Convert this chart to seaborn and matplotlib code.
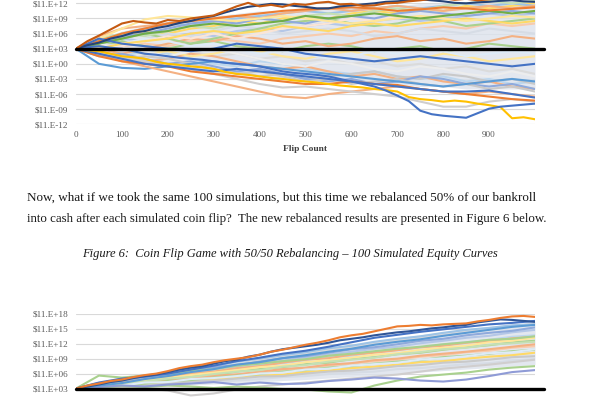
import numpy as np
import pandas as pd
import matplotlib
matplotlib.use("Agg")
import matplotlib.pyplot as plt
import seaborn as sns
from matplotlib.ticker import FixedLocator, FuncFormatter, NullLocator

# ---------------- data (exponents of bankroll, log10 $) ----------------
flips = [0, 50, 100, 150, 200, 250, 300, 350, 400, 450, 500,
         550, 600, 650, 700, 750, 800, 850, 900, 950, 1000]
flips_fine = [0, 25, 50, 75, 100, 125, 150, 175, 200, 225, 250, 275, 300, 325, 350, 375,
              400, 425, 450, 475, 500, 525, 550, 575, 600, 625, 650, 675, 700, 725, 750,
              775, 800, 825, 850, 875, 900, 925, 950, 975, 1000]
start_bankroll = 1000
x_ticks = [0, 100, 200, 300, 400, 500, 600, 700, 800, 900]
top_y_exps = [12, 9, 6, 3, 0, -3, -6, -9, -12]
bot_y_exps = [18, 15, 12, 9, 6, 3]

# Chart without rebalancing: pale cloud envelope
top_band_hi = [3, 5, 6.5, 7.5, 8.5, 9, 9.5, 10, 10.5, 10.5, 11, 11, 11.5, 11.5, 11.5, 12, 12, 12, 12, 12, 12]
top_band_lo = [3, 1.5, 0.5, 0, -0.5, -1, -1.5, -2, -2.5, -3, -3, -3.5, -3.5, -4, -4, -4.5, -4.5, -5, -5, -5, -5]

top_cloud = [
    [3, 4, 5, 4.5, 5.5, 6, 5.5, 6.5, 7, 6.5, 7.5, 8, 7.5, 8.5, 9, 8.5, 9, 9.5, 10, 9.5, 10],
    [3, 2.5, 3.5, 4, 3.5, 4.5, 5, 4.5, 4, 5, 5.5, 6, 5.5, 6.5, 6, 7, 7.5, 7, 8, 7.5, 8],
    [3, 3.5, 2.5, 2, 3, 2.5, 1.5, 2, 1, 1.5, 0.5, 1, 0, 0.5, -0.5, 0, -1, -0.5, -1.5, -1, -2],
    [3, 4.5, 5.5, 6.5, 6, 7, 7.5, 8.5, 8, 9, 9.5, 9, 10, 10.5, 10, 11, 10.5, 11.5, 11, 11.5, 12],
    [3, 2, 1.5, 2.5, 2, 1, 0, -0.5, 0.5, 0, -1, -1.5, -2, -1.5, -2.5, -3, -2.5, -3.5, -3, -4, -3.5],
    [3, 3.5, 4.5, 3.5, 3, 4, 4.5, 3.5, 3, 2.5, 3.5, 4, 3.5, 2.5, 3, 3.5, 2.5, 3, 4, 3.5, 3],
    [3, 4, 3.5, 5, 6, 5.5, 6.5, 7.5, 7, 6, 6.5, 7, 6.5, 5.5, 6, 7, 6.5, 6, 7, 6.5, 6],
    [3, 2.5, 1.5, 0.5, 1, 2, 1.5, 0.5, -0.5, -1, -0.5, -1.5, -2.5, -2, -3, -2.5, -3.5, -4, -3.5, -4.5, -5],
    [3, 4.5, 6, 7, 8, 7.5, 8.5, 9, 9.5, 10, 10.5, 10, 10.5, 11, 11.5, 11, 11.5, 12, 11.5, 12, 11.5],
    [3, 3, 2, 3, 4, 5, 4.5, 5.5, 5, 4, 4.5, 3.5, 4, 5, 5.5, 4.5, 5, 4, 4.5, 5.5, 5],
    [3, 2, 1, 0.5, -0.5, -1, -2, -1.5, -2.5, -2, -3, -2.5, -2, -1.5, -2.5, -3, -2, -2.5, -3.5, -3, -4],
    [3, 3.5, 3, 2, 2.5, 1.5, 2, 3, 2.5, 1.5, 1, 2, 2.5, 1.5, 0.5, 1, 2, 1.5, 0.5, 1, 1.5],
    [3, 4, 5, 6, 5, 4, 5, 6, 7, 8, 8.5, 9, 8, 7.5, 8, 9, 8.5, 7.5, 8, 8.5, 9],
    [3, 1.5, 2, 1, 0, 0.5, -0.5, -1.5, -1, -2, -3, -3.5, -3, -4, -3.5, -2.5, -3, -4, -4.5, -4, -5],
    [3, 5, 6, 5.5, 6.5, 7.5, 7, 8, 9, 8.5, 9.5, 10, 9.5, 10.5, 11, 10.5, 11.5, 12, 12.5, 12, 12.5],
    [3, 3, 4, 5, 4.5, 3.5, 4, 3, 2, 2.5, 2, 1, 1.5, 2.5, 2, 3, 2.5, 1.5, 2, 2.5, 2],
    [3, 2.5, 3.5, 4.5, 5.5, 5, 6, 5, 6, 7, 7.5, 8, 9, 8.5, 9.5, 9, 10, 9.5, 10.5, 10, 10.5],
    [3, 4, 3, 2.5, 1.5, 2.5, 3, 2, 1, 0, -0.5, 0.5, 0, -1, -1.5, -0.5, -1, -2, -2.5, -1.5, -2.5],
    [3, 5.5, 7, 7.5, 8, 8.5, 9, 9.5, 9, 10, 10.5, 11, 10.5, 11, 11.5, 11, 10.5, 11, 11.5, 11, 11.5],
    [3, 4, 5.5, 6, 7, 8, 8.5, 8, 9, 8.5, 8, 9, 9.5, 9, 10, 10.5, 10, 9.5, 10, 10.5, 10],
    [3, 3, 4, 4.5, 5, 6, 6.5, 6, 6.5, 7.5, 7, 6.5, 7.5, 8, 7.5, 8, 8.5, 9, 8.5, 8, 8.5],
    [3, 2, 1, 1.5, 1, 0, -1, -2, -1.5, -2.5, -3.5, -3, -4, -3.5, -3, -4, -4.5, -4, -5, -4.5, -5.5],
]
top_orange_mid = [3, 4.5, 6.0, 7.0, 8.0, 8.5, 9.0, 9.5, 10.0, 10.5, 10.8, 11.0, 11.2, 11.0, 10.5, 10.8, 11.2, 11.0, 10.6, 10.9, 11.2]
top_yellow_hi = [3, 5.0, 7.0, 8.8, 9.5, 9.2, 8.8, 8.5, 9.0, 9.5, 9.0, 8.5, 8.0, 8.5, 9.0, 9.5, 9.0, 8.5, 9.0, 9.5, 9.2]
top_green_mid = [3, 4.0, 5.0, 6.0, 6.5, 7.5, 8.0, 7.5, 8.0, 8.5, 9.5, 9.0, 9.5, 10.0, 9.5, 9.0, 9.5, 10.0, 10.5, 10.0, 10.5]
top_blue_start = [3, 5.0, 4.0, 3.5, 3.0, 2.5, 3.0, 4.0, 3.5, 3.0, 2.0, 1.5, 1.0, 0.5, 1.0, 1.5, 1.0, 0.5, 0.0, -0.5, 0.0]
top_blue_early = [3, 0.0, -0.8, -1.0, -0.5, 0.0, 0.5, 0.0, -0.5, -1.0, -1.5, -2.0, -2.5, -3.0, -3.5, -4.0, -4.5, -4.0, -3.5, -3.0, -3.5]
top_peach_low = [3, 2.0, 0.5, -0.5, -1.5, -2.5, -3.5, -4.5, -5.5, -6.5, -6.8, -6.0, -5.5, -5.0, -4.5, -5.0, -5.5, -6.0, -5.5, -6.0, -6.5]
top_grey_low = [3, 2.0, 1.5, 0.5, 0.0, -1.0, -2.0, -3.0, -4.0, -4.7, -4.5, -5.0, -5.5, -6.0, -6.5, -7.5, -8.5, -8.5, -7.5, -7.0, -7.5]
top_orange_low = [3, 1.5, 0.5, 0.0, -0.5, -1.5, -2.0, -2.5, -3.0, -3.5, -4.0, -4.0, -3.5, -4.0, -4.2, -5.0, -5.5, -6.0, -6.5, -7.0, -7.3]
top_blue_low2 = [3, 2.0, 1.0, 0.0, -0.5, -1.0, -1.5, -1.0, -1.5, -2.0, -2.5, -3.0, -3.5, -4.0, -4.5, -5.0, -5.5, -5.5, -5.3, -6.0, -6.7]
# prominent curves read at every 25 flips
top_yellow_low = [3, 2.7, 2.5, 2.0, 1.5, 1.3, 1.0, 0.4, 0.0, -0.2, -0.5, -0.7, -1.0, -1.6, -2.0, -2.2,
                  -2.5, -2.8, -3.0, -3.3, -3.5, -3.7, -4.0, -4.3, -4.5, -4.7, -5.0, -5.2, -5.5, -6.6,
                  -7.0, -7.2, -7.5, -7.3, -7.5, -7.9, -8.2, -8.6, -10.8, -10.6, -11.0]
top_blue_low = [3, 3.3, 3.5, 3.2, 3.0, 2.5, 2.0, 1.8, 1.5, 1.2, 1.0, 0.8, 0.5, 0.2, 0.0, -0.2,
                -0.5, -1.0, -1.5, -1.8, -2.0, -2.2, -2.5, -3.0, -3.5, -4.0, -4.5, -5.3, -6.3, -7.4,
                -9.3, -10.0, -10.3, -10.5, -10.7, -9.8, -8.9, -8.5, -8.3, -8.1, -7.9]
top_blue_hi = [3, 3.7, 4.2, 5.0, 5.5, 6.2, 6.5, 7.1, 7.5, 8.1, 8.5, 9.1, 9.5, 10.2, 10.8, 11.3,
               11.6, 11.9, 11.8, 11.5, 11.3, 11.0, 11.0, 11.4, 11.6, 11.8, 12.0, 12.3, 12.4, 12.6,
               12.8, 12.6, 12.4, 12.1, 12.0, 12.2, 12.3, 12.5, 12.6, 12.4, 12.3]
top_orange_hi = [3, 4.5, 5.6, 6.8, 8.0, 8.5, 8.2, 8.0, 8.7, 8.5, 9.0, 9.3, 9.6, 10.5, 11.4, 12.1,
                 11.4, 11.7, 11.3, 11.9, 11.7, 12.1, 12.3, 11.8, 11.9, 11.5, 11.6, 12.0, 12.1, 12.4,
                 12.6, 12.9, 13.0, 12.7, 12.9, 12.6, 12.8, 13.1, 13.3, 13.2, 13.5]

# Chart with 50/50 rebalancing
bot_band_hi = [3, 3.9, 4.6, 5.4, 6.1, 6.9, 7.6, 8.3, 9.1, 9.8, 10.5, 11.2, 11.9, 12.6, 13.2, 13.8, 14.4, 15.0, 15.5, 16.0, 16.4]
bot_band_lo = [3, 3.0, 3.1, 3.3, 3.5, 3.7, 3.9, 4.1, 4.3, 4.6, 4.8, 5.1, 5.4, 5.7, 6.0, 6.3, 6.6, 6.9, 7.2, 7.5, 7.8]
bot_cloud = [
    [3, 3.8, 4.5, 5.2, 5.6, 6.3, 7.0, 7.4, 8.1, 8.6, 9.3, 9.8, 10.4, 11.0, 11.4, 12.1, 12.6, 13.2, 13.6, 14.3, 14.8],
    [3, 3.4, 3.9, 4.1, 4.6, 5.0, 5.3, 5.9, 6.2, 6.8, 7.1, 7.6, 8.0, 8.5, 8.8, 9.4, 9.7, 10.3, 10.6, 11.2, 11.5],
    [3, 3.6, 4.4, 5.1, 5.9, 6.4, 7.2, 7.9, 8.7, 9.3, 10.0, 10.8, 11.3, 12.1, 12.7, 13.3, 13.9, 14.6, 15.0, 15.6, 16.0],
    [3, 3.2, 3.5, 3.9, 4.2, 4.4, 4.9, 5.1, 5.6, 5.8, 6.3, 6.6, 7.1, 7.4, 7.8, 8.3, 8.5, 9.0, 9.4, 9.7, 10.2],
    [3, 3.9, 4.3, 4.8, 5.5, 5.9, 6.6, 7.0, 7.7, 8.1, 8.7, 9.3, 9.6, 10.3, 10.8, 11.2, 11.9, 12.3, 12.8, 13.4, 13.7],
    [3, 3.3, 3.8, 4.5, 4.8, 5.4, 5.7, 6.4, 6.9, 7.3, 7.9, 8.2, 8.9, 9.3, 9.9, 10.2, 10.8, 11.3, 11.7, 12.3, 12.6],
    [3, 3.1, 3.3, 3.6, 3.8, 4.1, 4.3, 4.6, 4.9, 5.3, 5.5, 5.9, 6.2, 6.4, 6.9, 7.1, 7.5, 7.9, 8.1, 8.6, 8.9],
    [3, 3.7, 4.2, 4.9, 5.3, 6.0, 6.4, 7.1, 7.5, 8.2, 8.8, 9.1, 9.8, 10.2, 10.7, 11.3, 11.6, 12.2, 12.5, 13.1, 13.4],
    [3, 4.1, 4.7, 5.6, 6.2, 7.0, 7.5, 8.4, 9.0, 9.7, 10.3, 11.1, 11.6, 12.4, 13.0, 13.5, 14.2, 14.8, 15.2, 15.7, 15.9],
    [3, 3.5, 3.7, 4.3, 4.5, 5.1, 5.6, 5.8, 6.4, 6.9, 7.2, 7.8, 8.1, 8.7, 9.0, 9.6, 10.0, 10.4, 10.9, 11.4, 11.9],
    [3, 3.0, 3.4, 3.7, 4.0, 4.5, 4.6, 5.0, 5.4, 5.5, 6.0, 6.4, 6.6, 7.0, 7.5, 7.7, 8.2, 8.4, 8.8, 9.3, 9.5],
    [3, 3.6, 4.0, 4.7, 5.1, 5.7, 6.2, 6.7, 7.3, 7.6, 8.3, 8.7, 9.2, 9.8, 10.1, 10.8, 11.2, 11.6, 12.3, 12.6, 13.2],
    [3, 3.3, 3.7, 4.0, 4.5, 4.7, 5.2, 5.6, 5.9, 6.4, 6.7, 7.2, 7.5, 8.0, 8.4, 8.7, 9.3, 9.6, 10.0, 10.5, 10.8],
    [3, 3.8, 4.6, 5.3, 5.8, 6.6, 7.3, 7.7, 8.4, 9.1, 9.5, 10.2, 10.9, 11.3, 11.9, 12.6, 13.0, 13.7, 14.2, 14.6, 15.3],
    [3, 3.5, 4.1, 4.4, 5.0, 5.3, 5.9, 6.4, 6.7, 7.4, 7.7, 8.4, 8.8, 9.2, 9.9, 10.3, 10.9, 11.2, 11.8, 12.1, 12.4],
    [3, 3.2, 3.6, 4.2, 4.3, 4.9, 5.1, 5.5, 6.0, 6.2, 6.8, 7.0, 7.6, 7.9, 8.2, 8.8, 9.1, 9.5, 10.1, 10.3, 10.9],
]
bot_green_early = [3, 5.6, 5.2, 5.6, 6.1, 6.5, 6.9, 7.6, 8.0, 8.5, 8.9, 9.6, 10.0, 10.5, 11.0, 11.4, 11.9, 12.3, 12.8, 13.0, 13.5]
bot_grey_dip = [3, 2.8, 3.3, 3.0, 2.6, 1.6, 2.0, 2.8, 3.4, 3.8, 4.2, 4.6, 5.0, 5.4, 5.8, 6.4, 7.0, 7.4, 7.8, 8.3, 8.8]
bot_green_low = [3, 3.2, 3.5, 3.3, 3.6, 3.4, 3.1, 3.4, 3.2, 2.9, 2.8, 2.4, 2.2, 3.6, 4.6, 5.4, 5.8, 6.2, 6.8, 7.2, 7.5]
bot_purple_low = [3, 3.3, 3.6, 3.4, 3.8, 4.0, 4.3, 3.8, 4.2, 3.9, 4.0, 4.5, 4.8, 5.2, 5.0, 4.6, 4.4, 4.8, 5.5, 6.3, 6.7]
bot_blue_mid = [3, 3.6, 4.1, 4.9, 5.5, 6.3, 6.9, 7.8, 8.3, 9.1, 9.7, 10.4, 11.0, 11.8, 12.4, 12.9, 13.6, 14.2, 14.8, 15.4, 15.8]
bot_blue2 = [3, 4.2, 5.0, 5.4, 6.0, 6.8, 7.6, 8.5, 9.2, 10.0, 10.6, 11.4, 12.3, 13.2, 13.8, 14.4, 14.9, 15.4, 15.9, 16.2, 16.6]
bot_blue_hi = [3, 3.4, 3.8, 4.3, 4.6, 5.1, 5.5, 5.8, 6.3, 6.8, 7.2, 7.5, 8.0, 8.5, 8.8, 9.4,
               9.8, 10.4, 10.9, 11.2, 11.5, 11.8, 12.2, 12.7, 13.0, 13.3, 13.7, 14.0, 14.3, 14.5,
               14.8, 15.1, 15.3, 15.6, 15.8, 16.3, 16.6, 16.9, 16.8, 16.6, 16.4]
bot_orange_hi = [3, 3.6, 4.0, 4.5, 4.8, 5.3, 5.7, 6.0, 6.5, 7.1, 7.5, 7.8, 8.3, 8.7, 9.0, 9.3,
                 9.8, 10.4, 10.8, 11.3, 11.8, 12.2, 12.7, 13.3, 13.7, 14.0, 14.5, 15.0, 15.5, 15.6,
                 15.8, 15.7, 15.9, 16.0, 16.1, 16.5, 16.8, 17.2, 17.5, 17.6, 17.4]

# ---------------- style ----------------
cloud_colors = ["#B4C7E7", "#F8CBAD", "#DBDBDB", "#FFD966", "#BDD7EE", "#A9D18E",
                "#D6DCE5", "#F4B183", "#9DC3E6", "#F4B183", "#C9C9C9", "#FFE699",
                "#A9D18E", "#8FAADC", "#C5E0B4", "#DEEBF7", "#FBE5D6", "#EDEDED",
                "#F4B183", "#8FAADC", "#FFD966", "#C9C9C9"]

sns.set_theme(style="white")
plt.rcParams["font.family"] = ["Liberation Serif", "DejaVu Serif"]

W, H = 600, 400
fig = plt.figure(figsize=(6, 4), dpi=100)
fig.patch.set_facecolor("white")


def axes_px(left, top, right, bottom):
    return fig.add_axes([left / W, 1 - bottom / H, (right - left) / W, (bottom - top) / H])


def fmt(v, _):
    e = int(round(np.log10(v)))
    return "$11.E%+03d" % e


def draw_chart(ax, curves, band_lo, band_hi, ylo, yhi, y_exps, show_x):
    ax.set_yscale("log")
    ax.fill_between(flips, [10.0 ** v for v in band_lo], [10.0 ** v for v in band_hi],
                    color="#DCE2EC", alpha=0.8, lw=0, zorder=1)
    rows = []
    pal = {}
    for i, (xs, ys, col) in enumerate(curves):
        key = "c%02d" % i
        pal[key] = col
        for f, v in zip(xs, ys):
            rows.append((f, 10.0 ** v, key))
    df = pd.DataFrame(rows, columns=["flip", "value", "curve"])
    sns.lineplot(data=df, x="flip", y="value", hue="curve", palette=pal,
                 legend=False, estimator=None, linewidth=1.5, ax=ax, zorder=2)
    ax.axhline(start_bankroll, xmin=0, xmax=1020 / 1000, color="black",
               lw=2.4, clip_on=False, zorder=6)
    ax.set_xlim(0, 1000)
    ax.set_ylim(10.0 ** ylo, 10.0 ** yhi)
    ax.yaxis.set_major_locator(FixedLocator([10.0 ** e for e in y_exps]))
    ax.yaxis.set_minor_locator(NullLocator())
    ax.yaxis.set_major_formatter(FuncFormatter(fmt))
    ax.set_xticks(x_ticks)
    ax.set_xticklabels([str(t) for t in x_ticks])
    ax.grid(axis="y", color="#D9D9D9", lw=0.8, zorder=0)
    ax.grid(axis="x", visible=False)
    for s in ax.spines.values():
        s.set_visible(False)
    ax.tick_params(axis="both", length=0, labelsize=6.6, colors="#595959")
    ax.tick_params(axis="y", pad=5.5)
    ax.tick_params(axis="x", pad=5, labelbottom=show_x)
    ax.set_xlabel("")
    ax.set_ylabel("")
    ax.set_facecolor("white")


# top chart: 1e-12 at y=124.3 px, 5.04 px per decade
top_curves = [(flips, c, col) for c, col in zip(top_cloud, cloud_colors)]
top_curves += [
    (flips, top_yellow_hi, "#FFE699"), (flips, top_green_mid, "#70AD47"),
    (flips, top_orange_mid, "#ED7D31"), (flips, top_blue_start, "#4472C4"),
    (flips, top_blue_early, "#5B9BD5"), (flips, top_peach_low, "#F4B183"),
    (flips, top_grey_low, "#D0CECE"), (flips, top_orange_low, "#ED7D31"),
    (flips, top_blue_low2, "#4472C4"), (flips_fine, top_yellow_low, "#FFC000"),
    (flips_fine, top_blue_low, "#4472C4"), (flips_fine, top_blue_hi, "#264478"),
    (flips_fine, top_orange_hi, "#C55A11"),
]
ax1 = axes_px(76, 124.3 - 25.5 * 5.04, 535, 124.3)
draw_chart(ax1, top_curves, top_band_lo, top_band_hi, -12, 13.5, top_y_exps, True)
ax1.text(0.5, -0.19, "Flip Count", transform=ax1.transAxes, ha="center", va="center",
         fontsize=6.8, fontweight="bold", color="#404040")

# bottom chart: 1e3 at y=388.5 px, 4.97 px per decade
bot_curves = [(flips, c, col) for c, col in zip(bot_cloud, cloud_colors)]
bot_curves += [
    (flips, bot_green_early, "#A9D18E"), (flips, bot_grey_dip, "#D0CECE"),
    (flips, bot_green_low, "#A9D18E"), (flips, bot_purple_low, "#8F9BD6"),
    (flips, bot_blue_mid, "#5B9BD5"), (flips, bot_blue2, "#4472C4"),
    (flips_fine, bot_blue_hi, "#2F5597"), (flips_fine, bot_orange_hi, "#ED7D31"),
]
ax2 = axes_px(76, 388.5 - 15 * 4.97, 535, 388.5 + 6 * 4.97)
draw_chart(ax2, bot_curves, bot_band_lo, bot_band_hi, -3, 18, bot_y_exps, False)

# document text
line1 = "Now, what if we took the same 100 simulations, but this time we rebalanced 50% of our bankroll"
line2 = "into cash after each simulated coin flip?  The new rebalanced results are presented in Figure 6 below."
caption = "Figure 6:  Coin Flip Game with 50/50 Rebalancing \u2013 100 Simulated Equity Curves"
t1 = fig.text(27 / W, 1 - 198 / H, line1, ha="left", va="center", fontsize=10, color="#1a1a1a")
t2 = fig.text(27 / W, 1 - 219 / H, line2, ha="left", va="center", fontsize=10, color="#1a1a1a")
t3 = fig.text(290 / W, 1 - 254 / H, caption, ha="center", va="center", fontsize=10,
              style="italic", color="#1a1a1a")
fig.canvas.draw()
r = fig.canvas.get_renderer()
t1.set_fontsize(10 * 508 / t1.get_window_extent(r).width)
t2.set_fontsize(10 * 520 / t2.get_window_extent(r).width)
t3.set_fontsize(10 * 419 / t3.get_window_extent(r).width)

fig.savefig("out.png", dpi=100, facecolor="white")
